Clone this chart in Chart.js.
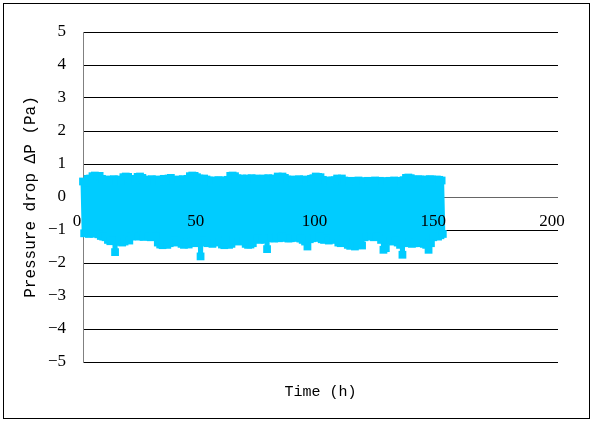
<!DOCTYPE html>
<html>
<head>
<meta charset="utf-8">
<script src="https://cdn.jsdelivr.net/npm/chart.js@4.4.0/dist/chart.umd.min.js"></script>
<style>
  html, body { margin: 0; padding: 0; background: #fff; }
  #wrap { position: relative; width: 593px; height: 421px; }
  #frame { position: absolute; left: 3px; top: 3px; width: 585px; height: 414px; border: 1px solid #000; pointer-events: none; }
</style>
</head>
<body>
<div id="wrap">
  <canvas id="dpChart" width="593" height="421"></canvas>
  <div id="frame"></div>
</div>
<script>
// hours of the run; for each hour an upper and a lower reading (lower one half an hour later)
const hours = [
  0, 1, 2, 3, 4, 5, 6, 7, 8, 9, 10, 11, 12, 13, 14, 15, 16, 17, 18, 19,
  20, 21, 22, 23, 24, 25, 26, 27, 28, 29, 30, 31, 32, 33, 34, 35, 36, 37, 38, 39,
  40, 41, 42, 43, 44, 45, 46, 47, 48, 49, 50, 51, 52, 53, 54, 55, 56, 57, 58, 59,
  60, 61, 62, 63, 64, 65, 66, 67, 68, 69, 70, 71, 72, 73, 74, 75, 76, 77, 78, 79,
  80, 81, 82, 83, 84, 85, 86, 87, 88, 89, 90, 91, 92, 93, 94, 95, 96, 97, 98, 99,
  100, 101, 102, 103, 104, 105, 106, 107, 108, 109, 110, 111, 112, 113, 114, 115, 116, 117, 118, 119,
  120, 121, 122, 123, 124, 125, 126, 127, 128, 129, 130, 131, 132, 133, 134, 135, 136, 137, 138, 139,
  140, 141, 142, 143, 144, 145, 146, 147, 148, 149, 150, 151
];
const highs = [
  0.47, 0.45, 0.55, 0.56, 0.63, 0.65, 0.62, 0.64, 0.55, 0.52,
  0.53, 0.50, 0.52, 0.54, 0.51, 0.53, 0.50, 0.60, 0.62, 0.61,
  0.55, 0.52, 0.53, 0.61, 0.62, 0.58, 0.53, 0.50, 0.52, 0.54,
  0.51, 0.53, 0.50, 0.52, 0.55, 0.53, 0.56, 0.58, 0.52, 0.50,
  0.53, 0.51, 0.54, 0.52, 0.55, 0.63, 0.65, 0.64, 0.60, 0.56,
  0.55, 0.56, 0.53, 0.50, 0.48, 0.50, 0.49, 0.51, 0.50, 0.48,
  0.50, 0.52, 0.64, 0.65, 0.63, 0.57, 0.55, 0.56, 0.54, 0.56,
  0.55, 0.57, 0.54, 0.56, 0.55, 0.53, 0.56, 0.55, 0.57, 0.54,
  0.56, 0.55, 0.62, 0.61, 0.62, 0.58, 0.53, 0.51, 0.53, 0.50,
  0.52, 0.54, 0.51, 0.53, 0.50, 0.52, 0.55, 0.57, 0.62, 0.61,
  0.60, 0.52, 0.49, 0.50, 0.48, 0.50, 0.51, 0.56, 0.55, 0.56,
  0.50, 0.48, 0.47, 0.49, 0.46, 0.48, 0.50, 0.47, 0.48, 0.46,
  0.49, 0.47, 0.48, 0.50, 0.47, 0.49, 0.46, 0.48, 0.47, 0.49,
  0.48, 0.50, 0.47, 0.49, 0.48, 0.51, 0.58, 0.59, 0.57, 0.53,
  0.52, 0.54, 0.53, 0.51, 0.53, 0.52, 0.54, 0.53, 0.51, 0.53,
  0.52, 0.50
];
const lows = [
  -1.10, -1.08, -1.12, -1.09, -1.11, -1.10, -1.13, -1.18, -1.20, -1.22,
  -1.30, -1.34, -1.32, -1.67, -1.36, -1.30, -1.38, -1.35, -1.28, -1.32,
  -1.20, -1.18, -1.15, -1.20, -1.17, -1.21, -1.15, -1.19, -1.22, -1.16,
  -1.20, -1.38, -1.44, -1.46, -1.42, -1.45, -1.40, -1.36, -1.32, -1.38,
  -1.34, -1.42, -1.45, -1.40, -1.44, -1.38, -1.35, -1.40, -1.30, -1.80,
  -1.32, -1.38, -1.40, -1.35, -1.42, -1.38, -1.30, -1.36, -1.44, -1.46,
  -1.40, -1.45, -1.42, -1.30, -1.28, -1.35, -1.33, -1.30, -1.42, -1.45,
  -1.44, -1.40, -1.28, -1.25, -1.30, -1.27, -1.29, -1.58, -1.25, -1.22,
  -1.26, -1.23, -1.25, -1.20, -1.24, -1.22, -1.26, -1.25, -1.21, -1.24,
  -1.22, -1.26, -1.30, -1.35, -1.50, -1.28, -1.25, -1.22, -1.24, -1.20,
  -1.28, -1.30, -1.26, -1.32, -1.28, -1.30, -1.27, -1.38, -1.40, -1.36,
  -1.38, -1.45, -1.48, -1.44, -1.50, -1.46, -1.42, -1.47, -1.22, -1.18,
  -1.20, -1.16, -1.22, -1.19, -1.21, -1.30, -1.60, -1.55, -1.30, -1.33,
  -1.35, -1.32, -1.38, -1.45, -1.75, -1.40, -1.36, -1.38, -1.42, -1.40,
  -1.37, -1.40, -1.38, -1.42, -1.45, -1.60, -1.40, -1.22, -1.18, -1.20,
  -1.16, -1.12
];
const xTicks = [0, 50, 100, 150, 200];
const yTicks = [-5, -4, -3, -2, -1, 0, 1, 2, 3, 4, 5];

// interleave upper and lower readings into one time series
const points = [];
hours.forEach((h, i) => {
    points.push({ x: h, y: highs[i] });
    points.push({ x: h + 0.5, y: lows[i] });
});

const cyan = '#00CCFF';

new Chart(document.getElementById('dpChart').getContext('2d'), {
    type: 'scatter',
    data: {
        datasets: [{
            label: 'ΔP',
            data: points,
            showLine: true,
            borderColor: cyan,
            borderWidth: 5,
            borderJoinStyle: 'round',
            backgroundColor: cyan,
            pointStyle: 'rect',
            pointRadius: 5.5,
            pointBorderWidth: 0,
            pointBackgroundColor: cyan,
            clip: false
        }]
    },
    options: {
        responsive: false,
        animation: false,
        layout: { padding: { top: 32, right: 35, left: 0, bottom: 0 } },
        plugins: {
            legend: { display: false },
            tooltip: { enabled: false },
            title: {
                display: true,
                text: 'Time (h)',
                position: 'bottom',
                fullSize: false,
                color: '#000',
                font: { family: 'Liberation Mono', size: 15, weight: 'normal' },
                padding: { top: 21, bottom: 20 }
            }
        },
        scales: {
            x: {
                type: 'linear',
                position: { y: 0 },
                min: 0,
                max: 200,
                afterBuildTicks: (scale) => { scale.ticks = xTicks.map(v => ({ value: v })); },
                ticks: {
                    z: 1,
                    autoSkip: false,
                    color: '#000',
                    padding: 14,
                    labelOffset: -6,
                    maxRotation: 0,
                    font: { family: 'Liberation Serif', size: 17 }
                },
                grid: { display: false, drawTicks: false },
                border: { display: false }
            },
            y: {
                min: -5,
                max: 5,
                afterBuildTicks: (scale) => { scale.ticks = yTicks.map(v => ({ value: v })); },
                afterFit: (scale) => { scale.width = 83; },
                ticks: {
                    color: '#000',
                    padding: 17,
                    font: { family: 'Liberation Serif', size: 17 },
                    callback: (v) => v < 0 ? '\u2212' + Math.abs(v) : String(v)
                },
                grid: {
                    drawTicks: false,
                    color: (ctx) => ctx.tick && ctx.tick.value === 0 ? '#666' : '#000',
                    lineWidth: 1
                },
                border: { color: '#808080', width: 1 },
                title: {
                    display: true,
                    text: 'Pressure drop ΔP (Pa)',
                    color: '#000',
                    font: { family: 'Liberation Mono', size: 16, weight: 'normal' },
                    padding: { top: 21, bottom: 0 }
                }
            }
        }
    }
});
</script>
</body>
</html>
